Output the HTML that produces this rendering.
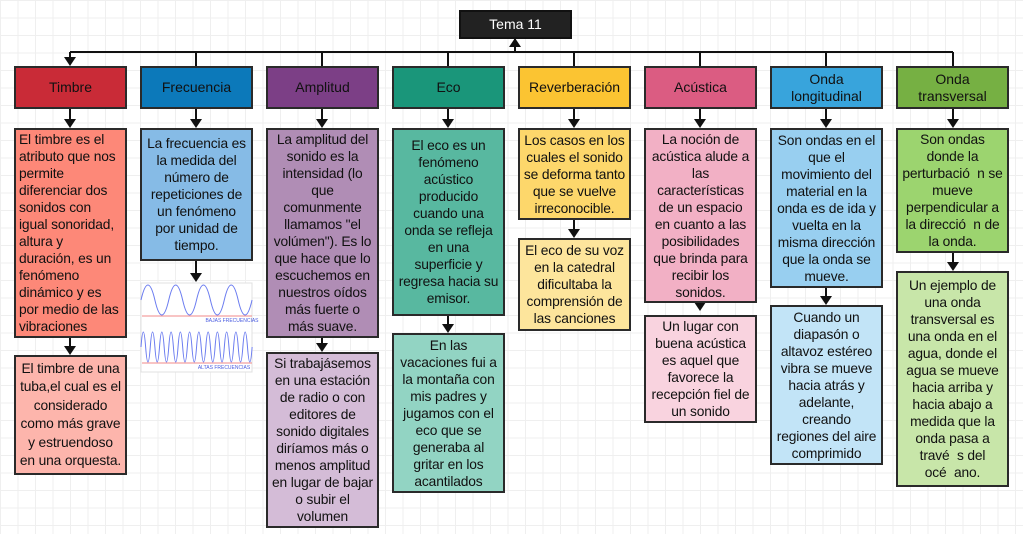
<!DOCTYPE html>
<html><head><meta charset="utf-8"><style>
html,body{margin:0;padding:0}
body{width:1023px;height:534px;position:relative;overflow:hidden;background-color:#fff;
background-image:linear-gradient(#efefef 1px,transparent 1px),linear-gradient(90deg,#efefef 1px,transparent 1px);background-size:17.5px 17.5px;
font-family:"Liberation Sans",Arial,sans-serif;color:#111}
.b{position:absolute;box-sizing:border-box;border:2px solid #2a2a2a;display:flex;align-items:center;justify-content:center;text-align:center;font-size:13.8px;line-height:17px;padding:0;white-space:nowrap;letter-spacing:-0.15px}
.h{font-size:14px;line-height:17px;letter-spacing:0}
.l{justify-content:flex-start;text-align:left;align-items:flex-start;padding:1px 0 0 3px}
svg{position:absolute;left:0;top:0}
</style></head><body>
<svg width="1023" height="534">
<g stroke="#111" stroke-width="2" fill="none">
<line x1="70" y1="52" x2="953" y2="52"/>
<line x1="515" y1="38" x2="515" y2="52"/>
<line x1="196" y1="52" x2="196" y2="66"/><line x1="322" y1="52" x2="322" y2="66"/><line x1="448" y1="52" x2="448" y2="66"/><line x1="574" y1="52" x2="574" y2="66"/><line x1="700" y1="52" x2="700" y2="66"/><line x1="826" y1="52" x2="826" y2="66"/><line x1="953" y1="52" x2="953" y2="66"/>
<line x1="70" y1="52" x2="70" y2="58"/>
<line x1="70" y1="108" x2="70" y2="120"/><line x1="196" y1="108" x2="196" y2="120"/><line x1="322" y1="108" x2="322" y2="120"/><line x1="448" y1="108" x2="448" y2="120"/><line x1="574" y1="108" x2="574" y2="120"/><line x1="700" y1="108" x2="700" y2="120"/><line x1="826" y1="108" x2="826" y2="120"/><line x1="953" y1="108" x2="953" y2="120"/>
<line x1="70" y1="337" x2="70" y2="347"/><line x1="196" y1="260" x2="196" y2="274"/><line x1="322" y1="337" x2="322" y2="344"/><line x1="448" y1="315" x2="448" y2="325"/><line x1="574" y1="219" x2="574" y2="230"/><line x1="826" y1="287" x2="826" y2="297"/><line x1="953" y1="252" x2="953" y2="263"/>
</g>
<g fill="#111">
<path d="M64,57h12l-6,9z"/><path d="M509,47h12l-6,-9z"/>
<path d="M64,119h12l-6,9z"/><path d="M190,119h12l-6,9z"/><path d="M316,119h12l-6,9z"/><path d="M442,119h12l-6,9z"/><path d="M568,119h12l-6,9z"/><path d="M694,119h12l-6,9z"/><path d="M820,119h12l-6,9z"/><path d="M947,119h12l-6,9z"/>
<path d="M64,346h12l-6,9z"/><path d="M190,273h12l-6,9z"/><path d="M316,343h12l-6,9z"/><path d="M442,324h12l-6,9z"/><path d="M568,229h12l-6,9z"/><path d="M694,302h12l-6,9z"/><path d="M820,296h12l-6,9z"/><path d="M947,262h12l-6,9z"/>
</g>
<rect x="141" y="283" width="111" height="89" fill="#fff" stroke="#e0e0e0"/>
<line x1="142" y1="316" x2="252" y2="316" stroke="#f08a8a"/>
<line x1="142" y1="363" x2="252" y2="363" stroke="#f08a8a"/>
<path d="M141,300 q6.94,-30 13.88,0 t13.88,0 t13.88,0 t13.88,0 t13.88,0 t13.88,0 t13.88,0 t13.88,0" stroke="#6b7cf0" fill="none"/>
<path d="M141,347 q2.3,-30 4.63,0 t4.63,0 t4.63,0 t4.63,0 t4.63,0 t4.63,0 t4.63,0 t4.63,0 t4.63,0 t4.63,0 t4.63,0 t4.63,0 t4.63,0 t4.63,0 t4.63,0 t4.63,0 t4.63,0 t4.63,0 t4.63,0 t4.63,0 t4.63,0 t4.63,0 t4.63,0 t4.63,0" stroke="#6b7cf0" fill="none"/>
<text x="232" y="322" font-size="5" fill="#4a5ce0" text-anchor="middle" font-family="Liberation Sans">BAJAS FRECUENCIAS</text>
<text x="224" y="369" font-size="5" fill="#4a5ce0" text-anchor="middle" font-family="Liberation Sans">ALTAS FRECUENCIAS</text>
</svg>

<div class="b h" style="left:459px;top:10px;width:113px;height:29px;background:#222;color:#fff;border-color:#111">Tema 11</div>

<div class="b h" style="left:14px;top:66px;width:113px;height:43px;background:#c92b37">Timbre</div>
<div class="b h" style="left:140px;top:66px;width:113px;height:43px;background:#0c79ba">Frecuencia</div>
<div class="b h" style="left:266px;top:66px;width:113px;height:43px;background:#7c3f86">Amplitud</div>
<div class="b h" style="left:392px;top:66px;width:113px;height:43px;background:#1a967a">Eco</div>
<div class="b h" style="left:518px;top:66px;width:113px;height:43px;background:#fbc432">Reverberación</div>
<div class="b h" style="left:644px;top:66px;width:113px;height:43px;background:#db5c82">Acústica</div>
<div class="b h" style="left:770px;top:66px;width:113px;height:43px;background:#38a4dc">Onda<br>longitudinal</div>
<div class="b h" style="left:896px;top:66px;width:113px;height:43px;background:#76b043">Onda<br>transversal</div>

<div class="b l" style="left:14px;top:128px;width:113px;height:210px;background:#fd8878">El timbre es el<br>atributo que nos<br>permite<br>diferenciar dos<br>sonidos con<br>igual sonoridad,<br>altura y<br>duración, es un<br>fenómeno<br>dinámico y es<br>por medio de las<br>vibraciones</div>
<div class="b" style="left:14px;top:355px;width:113px;height:120px;background:#fdb5ac;line-height:18.5px">El timbre de una<br>tuba,el cual es el<br>considerado<br>como más grave<br>y estruendoso<br>en una orquesta.</div>

<div class="b" style="left:140px;top:128px;width:113px;height:133px;background:#86bbe6">La frecuencia es<br>la medida del<br>número de<br>repeticiones de<br>un fenómeno<br>por unidad de<br>tiempo.</div>

<div class="b" style="left:266px;top:128px;width:113px;height:210px;background:#b08db5">La amplitud del<br>sonido es la<br>intensidad (lo<br>que<br>comunmente<br>llamamos "el<br>volúmen"). Es lo<br>que hace que lo<br>escuchemos en<br>nuestros oídos<br>más fuerte o<br>más suave.</div>
<div class="b" style="left:266px;top:352px;width:113px;height:176px;background:#d4bcd7">Si trabajásemos<br>en una estación<br>de radio o con<br>editores de<br>sonido digitales<br>diríamos más o<br>menos amplitud<br>en lugar de bajar<br>o subir el<br>volumen</div>

<div class="b" style="left:392px;top:128px;width:113px;height:188px;background:#58b8a0">El eco es un<br>fenómeno<br>acústico<br>producido<br>cuando una<br>onda se refleja<br>en una<br>superficie y<br>regresa hacia su<br>emisor.</div>
<div class="b" style="left:392px;top:333px;width:113px;height:160px;background:#92d4c3">En las<br>vacaciones fui a<br>la montaña con<br>mis padres y<br>jugamos con el<br>eco que se<br>generaba al<br>gritar en los<br>acantilados</div>

<div class="b" style="left:518px;top:128px;width:113px;height:92px;background:#fdd76b">Los casos en los<br>cuales el sonido<br>se deforma tanto<br>que se vuelve<br>irreconocible.</div>
<div class="b" style="left:518px;top:238px;width:113px;height:93px;background:#fde59c">El eco de su voz<br>en la catedral<br>dificultaba la<br>comprensión de<br>las canciones</div>

<div class="b" style="left:644px;top:128px;width:113px;height:175px;background:#f2b0c5">La noción de<br>acústica alude a<br>las<br>características<br>de un espacio<br>en cuanto a las<br>posibilidades<br>que brinda para<br>recibir los<br>sonidos.</div>
<div class="b" style="left:644px;top:315px;width:113px;height:108px;background:#f9d3df">Un lugar con<br>buena acústica<br>es aquel que<br>favorece la<br>recepción fiel de<br>un sonido</div>

<div class="b" style="left:770px;top:128px;width:113px;height:160px;background:#98cff0">Son ondas en el<br>que el<br>movimiento del<br>material en la<br>onda es de ida y<br>vuelta en la<br>misma dirección<br>que la onda se<br>mueve.</div>
<div class="b" style="left:770px;top:305px;width:113px;height:160px;background:#c2e4f7">Cuando un<br>diapasón o<br>altavoz estéreo<br>vibra se mueve<br>hacia atrás y<br>adelante,<br>creando<br>regiones del aire<br>comprimido</div>

<div class="b" style="left:896px;top:128px;width:113px;height:125px;background:#9cd46f">Son ondas<br>donde la<br>perturbació&nbsp; n se<br>mueve<br>perpendicular a<br>la direcció&nbsp; n de<br>la onda.</div>
<div class="b" style="left:896px;top:271px;width:113px;height:216px;background:#c8e6a9">Un ejemplo de<br>una onda<br>transversal es<br>una onda en el<br>agua, donde el<br>agua se mueve<br>hacia arriba y<br>hacia abajo a<br>medida que la<br>onda pasa a<br>travé&nbsp; s del<br>océ&nbsp; ano.</div>
</body></html>
